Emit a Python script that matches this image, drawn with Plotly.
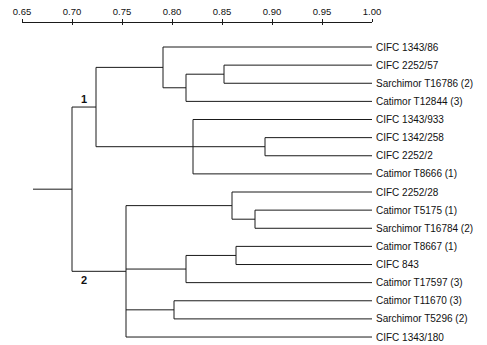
import plotly.graph_objects as go

# ---- data ----
leaf_labels = [
    "CIFC 1343/86", "CIFC 2252/57", "Sarchimor T16786 (2)", "Catimor T12844 (3)",
    "CIFC 1343/933", "CIFC 1342/258", "CIFC 2252/2", "Catimor T8666 (1)",
    "CIFC 2252/28", "Catimor T5175 (1)", "Sarchimor T16784 (2)", "Catimor T8667 (1)",
    "CIFC 843", "Catimor T17597 (3)", "Catimor T11670 (3)", "Sarchimor T5296 (2)",
    "CIFC 1343/180",
]
node_names = ["A", "B", "C", "D", "E", "F", "G", "H", "I", "J", "K", "L", "R"]
node_similarity = [0.852, 0.814, 0.791, 0.893, 0.821, 0.724,
                   0.883, 0.860, 0.864, 0.814, 0.802, 0.754, 0.700]
node_children = [
    ["CIFC 2252/57", "Sarchimor T16786 (2)"],
    ["A", "Catimor T12844 (3)"],
    ["CIFC 1343/86", "B"],
    ["CIFC 1342/258", "CIFC 2252/2"],
    ["CIFC 1343/933", "D", "Catimor T8666 (1)"],
    ["C", "E"],
    ["Catimor T5175 (1)", "Sarchimor T16784 (2)"],
    ["CIFC 2252/28", "G"],
    ["Catimor T8667 (1)", "CIFC 843"],
    ["I", "Catimor T17597 (3)"],
    ["Catimor T11670 (3)", "Sarchimor T5296 (2)"],
    ["H", "J", "K", "CIFC 1343/180"],
    ["F", "L"],
]
cluster_labels = {"F": "1", "L": "2"}
root_start = 0.661
tick_vals = [0.65, 0.70, 0.75, 0.80, 0.85, 0.90, 0.95, 1.00]
tick_text = ["0.65", "0.70", "0.75", "0.80", "0.85", "0.90", "0.95", "1.00"]

# ---- layout of tree ----
xpos = {lab: 1.0 for lab in leaf_labels}
ypos = {lab: i for i, lab in enumerate(leaf_labels)}
for name, sim in zip(node_names, node_similarity):
    xpos[name] = sim
children = dict(zip(node_names, node_children))


def get_y(n):
    if n in ypos:
        return ypos[n]
    ys = [get_y(c) for c in children[n]]
    ypos[n] = (min(ys) + max(ys)) / 2
    return ypos[n]


for n in node_names:
    get_y(n)

xs, ys = [], []
for n in node_names:
    cy = [ypos[c] for c in children[n]]
    xs += [xpos[n], xpos[n], None]
    ys += [min(cy), max(cy), None]
    for c in children[n]:
        xs += [xpos[n], xpos[c], None]
        ys += [ypos[c], ypos[c], None]
# root stub
xs += [root_start, xpos["R"], None]
ys += [ypos["R"], ypos["R"], None]

fig = go.Figure()
fig.add_trace(go.Scatter(x=xs, y=ys, mode="lines",
                         line=dict(color="#1a1a1a", width=1),
                         hoverinfo="skip", showlegend=False))
# helper trace for second (downward ticks) axis
fig.add_trace(go.Scatter(x=[None], y=[None], xaxis="x2", mode="lines",
                         showlegend=False, hoverinfo="skip"))

anns = []
for n, txt in cluster_labels.items():
    parent = [p for p in node_names if n in children[p]][0]
    above = ypos[n] < ypos[parent]
    anns.append(dict(x=xpos[parent] + 0.0115,
                     y=ypos[n], xref="x", yref="y", text=f"<b>{txt}</b>",
                     showarrow=False, font=dict(size=11, color="#111"),
                     yanchor="bottom" if above else "top",
                     yshift=0 if above else -1))

font = dict(family="Liberation Sans, Arial, sans-serif", size=10, color="#111")
fig.update_layout(
    width=487, height=345,
    margin=dict(l=22, r=115, t=23, b=0),
    plot_bgcolor="white", paper_bgcolor="white",
    font=font,
    annotations=anns,
    xaxis=dict(range=[0.65, 1.0], side="top", showgrid=False, zeroline=False,
               showline=True, linecolor="#1a1a1a", linewidth=1,
               ticks="outside", ticklen=3, tickcolor="#1a1a1a", tickwidth=1,
               tickvals=tick_vals, ticktext=tick_text,
               tickfont=dict(size=9.5, color="#111")),
    xaxis2=dict(range=[0.65, 1.0], overlaying="x", side="top", showgrid=False,
                zeroline=False, showline=False, ticks="inside", ticklen=2,
                tickcolor="#1a1a1a", tickwidth=1, tickvals=tick_vals,
                showticklabels=False),
    yaxis=dict(range=[16.44, -1.324], side="right", showgrid=False,
               zeroline=False, showline=False, ticks="",
               tickvals=list(range(len(leaf_labels))), ticktext=leaf_labels,
               ticklabelstandoff=3, tickfont=font),
)
fig.write_html("out.html")
